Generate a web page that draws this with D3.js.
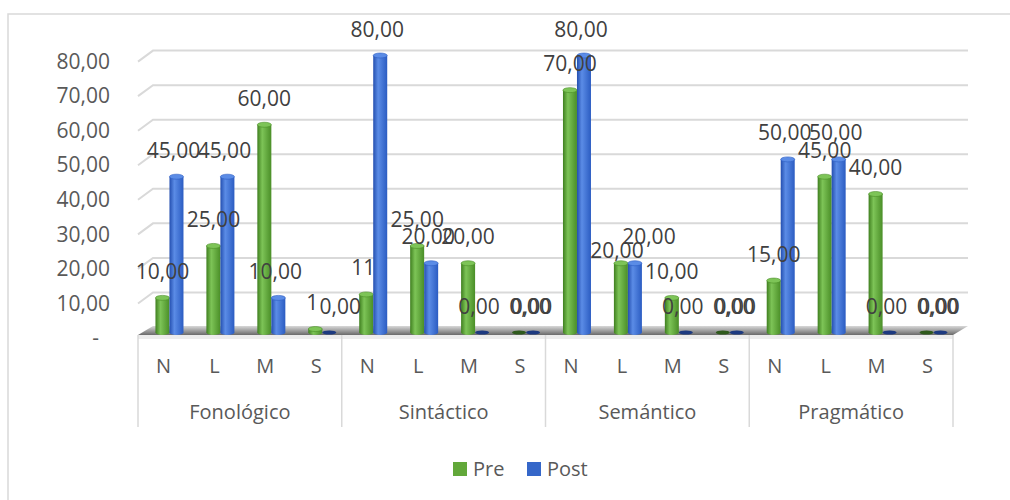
<!DOCTYPE html>
<html>
<head>
<meta charset="utf-8">
<script src="https://cdn.jsdelivr.net/npm/d3@7"></script>
<style>
  html, body { margin: 0; padding: 0; background: #fff; }
  svg { display: block; font-family: "Open Sans", sans-serif; }
</style>
</head>
<body>
<div id="chart"></div>
<script>
// chart data
const groups = ["Fonológico", "Sintáctico", "Semántico", "Pragmático"];
const levels = ["N", "L", "M", "S"];
const seriesNames = ["Pre", "Post"];
const preValues  = [10, 25, 60, 1,  11, 25, 20, 0,  70, 20, 10, 0,  15, 45, 40, 0];
const postValues = [45, 45, 10, 0,  80, 20, 0, 0,   80, 20, 0, 0,   50, 50, 0, 0];
// two pre labels are shown without decimals in the original
const preLabelOverride = { 3: "1", 4: "11" };
const yTicks = [0, 10, 20, 30, 40, 50, 60, 70, 80];

const width = 1010, height = 500;
const left = 138, right = 953;
const depth = { x: 15, y: -11 };   // fake 3D offset of the back wall
const colors = {
  Pre:  { dark: "#3f7f1f", light: "#7dc457", mid: "#4a8e27", legend: "#62a83a" },
  Post: { dark: "#244fb0", light: "#5b8ce6", mid: "#2b5cc2", legend: "#3567c9" }
};

// labels that were dragged around by hand in the original
const labelNudge = {
  "Post-3": { dx: 11, dy: 0 },
  "Pre-9":  { dx: -4, dy: 14 },
  "Post-9": { dx: 14, dy: 0 }
};

const fmt = v => v.toFixed(2).replace(".", ",");

// flatten into rows
const rows = [];
groups.forEach((g, gi) => levels.forEach((l, li) => {
  const i = gi * levels.length + li;
  rows.push({ idx: i, group: g, level: l, Pre: preValues[i], Post: postValues[i] });
}));

const svg = d3.select("#chart").append("svg")
  .attr("width", width).attr("height", height);

const defs = svg.append("defs");
seriesNames.forEach(s => {
  const lg = defs.append("linearGradient").attr("id", "cyl" + s)
    .attr("x1", "0%").attr("x2", "100%").attr("y1", "0%").attr("y2", "0%");
  lg.append("stop").attr("offset", "0%").attr("stop-color", colors[s].dark);
  lg.append("stop").attr("offset", "35%").attr("stop-color", colors[s].light);
  lg.append("stop").attr("offset", "100%").attr("stop-color", colors[s].mid);
});
const floorGrad = defs.append("linearGradient").attr("id", "floorGrad")
  .attr("x1", "0%").attr("x2", "0%").attr("y1", "0%").attr("y2", "100%");
floorGrad.append("stop").attr("offset", "0%").attr("stop-color", "#d8d8d8");
floorGrad.append("stop").attr("offset", "100%").attr("stop-color", "#6a6a6a");

// outer chart border (right/bottom edges sit outside the window)
svg.append("rect")
  .attr("x", 8).attr("y", 14).attr("width", 1030).attr("height", 520)
  .attr("fill", "none").attr("stroke", "#d9d9d9").attr("stroke-width", 1.5);

// scales
const yFront = d3.scaleLinear().domain([0, 80]).range([338, 61.6]);
const yBar = d3.scaleLinear().domain([0, 80]).range([332.5, 55.5]);
const xGroup = d3.scaleBand().domain(groups).range([left, right]);
const xLevel = d3.scaleBand().domain(levels).range([0, xGroup.bandwidth()]);
const xSeries = d3.scaleBand().domain(seriesNames).range([0, 28]);
const slotCenter = d => xGroup(d.group) + xLevel(d.level) + xLevel.bandwidth() / 2 + 6;

// gridlines with their slanted left wall piece
svg.append("g").selectAll("path")
  .data(yTicks.filter(t => t > 0))
  .join("path")
  .attr("d", t => `M${left},${yFront(t)} L${left + depth.x},${yFront(t) + depth.y} L${right + depth.x},${yFront(t) + depth.y}`)
  .attr("fill", "none").attr("stroke", "#d9d9d9").attr("stroke-width", 2);

// y axis labels
const yAxis = svg.append("g")
  .attr("transform", `translate(${left - 28},0)`)
  .call(d3.axisLeft(yFront).tickValues(yTicks).tickSize(0).tickPadding(0)
    .tickFormat(t => t === 0 ? "-" : fmt(t)));
yAxis.select(".domain").remove();
yAxis.selectAll("text")
  .attr("font-family", "Open Sans").attr("font-size", 21).attr("fill", "#595959")
  .attr("dx", t => t === 0 ? -11 : 0);

// floor
svg.append("path")
  .attr("d", `M${left},335 L${right},335 L${right + depth.x},326 L${left + depth.x},326 Z`)
  .attr("fill", "url(#floorGrad)");
svg.append("rect")
  .attr("x", left).attr("y", 335).attr("width", right - left).attr("height", 4)
  .attr("fill", "#ececec");

// category axis separators
const seps = groups.map(g => xGroup(g)).concat([right]);
svg.append("g").selectAll("line")
  .data(seps).join("line")
  .attr("x1", d => d).attr("x2", d => d)
  .attr("y1", 335).attr("y2", 427)
  .attr("stroke", "#d9d9d9").attr("stroke-width", 1.5);

// level labels and group labels
svg.append("g").selectAll("text")
  .data(rows).join("text")
  .attr("x", d => xGroup(d.group) + xLevel(d.level) + xLevel.bandwidth() / 2)
  .attr("y", 373)
  .attr("text-anchor", "middle")
  .attr("font-size", 20).attr("fill", "#595959")
  .text(d => d.level);

svg.append("g").selectAll("text")
  .data(groups).join("text")
  .attr("x", d => xGroup(d) + xGroup.bandwidth() / 2)
  .attr("y", 419)
  .attr("text-anchor", "middle")
  .attr("font-size", 20).attr("fill", "#595959")
  .text(d => d);

// cylinders
const bw = xSeries.bandwidth();
const bars = [];
rows.forEach(d => seriesNames.forEach(s => {
  bars.push({ ...d, series: s, value: d[s], cx: slotCenter(d) - 14 + xSeries(s) + bw / 2 });
}));

const barG = svg.append("g");
bars.forEach(b => {
  const g = barG.append("g");
  const top = yBar(b.value), base = yBar(0);
  if (b.value > 0) {
    g.append("rect")
      .attr("x", b.cx - bw / 2).attr("y", top)
      .attr("width", bw).attr("height", base - top)
      .attr("fill", `url(#cyl${b.series})`);
    g.append("ellipse")
      .attr("cx", b.cx).attr("cy", base).attr("rx", bw / 2).attr("ry", 2.5)
      .attr("fill", `url(#cyl${b.series})`);
    g.append("ellipse")
      .attr("cx", b.cx).attr("cy", top).attr("rx", bw / 2).attr("ry", 2.5)
      .attr("fill", colors[b.series].light).attr("stroke", colors[b.series].mid).attr("stroke-width", 0.6);
  } else {
    g.append("ellipse")
      .attr("cx", b.cx).attr("cy", base).attr("rx", bw / 2).attr("ry", 2)
      .attr("fill", b.series === "Pre" ? "#2f5a1c" : "#1d3a80");
  }
});

// data labels: post labels sit a bit left, zero pre labels land almost on the post one
const labelDx = d => {
  const n = labelNudge[d.series + "-" + d.idx];
  if (n) return n.dx;
  if (d.series === "Post") return -3;
  if (preLabelOverride[d.idx]) return -3;
  return d.value === 0 ? 12.5 : 0;
};
const labelDy = d => (labelNudge[d.series + "-" + d.idx] || { dy: 0 }).dy;
const labelText = d => (d.series === "Pre" && preLabelOverride[d.idx]) || fmt(d.value);
svg.append("g").selectAll("text")
  .data(bars).join("text")
  .attr("x", d => d.cx + labelDx(d))
  .attr("y", d => yBar(d.value) - 19 + labelDy(d))
  .attr("text-anchor", "middle")
  .attr("font-size", 21).attr("fill", "#404040")
  .text(labelText);

// legend
const legend = svg.append("g");
const legendX = { Pre: 453, Post: 527 };
seriesNames.forEach(s => {
  legend.append("rect")
    .attr("x", legendX[s]).attr("y", 462).attr("width", 14).attr("height", 14)
    .attr("fill", colors[s].legend);
  legend.append("text")
    .attr("x", legendX[s] + 20).attr("y", 476)
    .attr("font-size", 20).attr("fill", "#595959")
    .text(s);
});
</script>
</body>
</html>
